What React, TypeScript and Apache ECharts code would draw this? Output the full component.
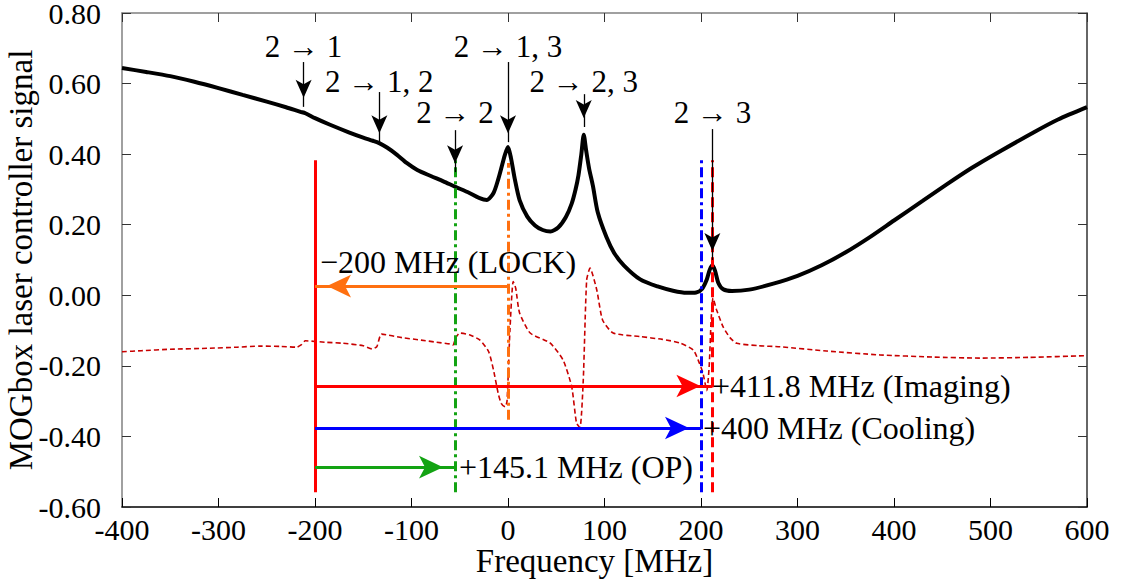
import React, { useEffect, useRef } from "react";
import * as echarts from "echarts";

// ---------- data ----------
const xMin = -400;
const xMax = 600;
const xStep = 100;
const yMin = -0.6;
const yMax = 0.8;
const yStep = 0.2;

// MOGbox laser controller signal (black, thick)
const controllerSignal: [number, number][] = [
  [-400, 0.644], [-375, 0.633], [-350, 0.621], [-325, 0.605], [-300, 0.587],
  [-275, 0.568], [-250, 0.549], [-230, 0.533], [-215, 0.52], [-210, 0.516],
  [-200, 0.502], [-185, 0.484], [-165, 0.462], [-150, 0.447], [-140, 0.438],
  [-134, 0.432], [-125, 0.418], [-115, 0.398], [-105, 0.375], [-94, 0.355],
  [-80, 0.338], [-67, 0.323], [-55, 0.308], [-40, 0.29], [-30, 0.276],
  [-22, 0.27], [-15, 0.29], [-10, 0.33], [-6, 0.37], [-3, 0.4], [0, 0.42],
  [3, 0.39], [7, 0.33], [12, 0.27], [20, 0.223], [28, 0.198], [36, 0.185],
  [44, 0.181], [52, 0.192], [60, 0.222], [66, 0.26], [70, 0.3], [73, 0.34],
  [76, 0.4], [78.5, 0.455], [81, 0.41], [84, 0.36], [88, 0.31], [93, 0.235],
  [102, 0.165], [110, 0.12], [120, 0.085], [137, 0.045], [155, 0.025],
  [171, 0.013], [185, 0.007], [195, 0.008], [201, 0.018], [206, 0.045],
  [209, 0.072], [211.8, 0.085], [214.5, 0.07], [218, 0.035], [223, 0.017],
  [232, 0.012], [250, 0.016], [275, 0.033], [300, 0.055], [325, 0.085],
  [350, 0.122], [375, 0.165], [400, 0.212], [430, 0.268], [455, 0.315],
  [480, 0.36], [510, 0.408], [545, 0.462], [570, 0.498], [600, 0.533],
];

// error signal (dark red, dashed)
const errorSignal: [number, number][] = [
  [-400, -0.16], [-380, -0.157], [-350, -0.153], [-309, -0.15], [-280, -0.147],
  [-257, -0.144], [-235, -0.145], [-219, -0.147], [-214, -0.14], [-210, -0.129],
  [-190, -0.133], [-171, -0.136], [-150, -0.143], [-141, -0.152], [-136, -0.146],
  [-131, -0.11], [-110, -0.12], [-90, -0.127], [-74, -0.133], [-60, -0.138],
  [-57, -0.141], [-54, -0.12], [-50, -0.107], [-40, -0.112], [-29, -0.127],
  [-20, -0.16], [-15, -0.212], [-10, -0.28], [-7, -0.306], [-3, -0.316],
  [-1, -0.3], [2, -0.1], [5.4, 0.039], [8, 0.02], [12, -0.05], [23, -0.107],
  [43.5, -0.135], [57, -0.183], [66, -0.259], [71, -0.362], [74.6, -0.374],
  [78, -0.24], [81.5, 0.043], [85, 0.077], [92, 0.015], [98, -0.07],
  [109, -0.107], [137, -0.117], [160, -0.125], [178, -0.135], [192, -0.155],
  [198, -0.19], [202, -0.22], [206, -0.27], [208.5, -0.2], [210.5, -0.07],
  [212.5, -0.008], [216, -0.04], [222.8, -0.089], [230, -0.12], [237, -0.136],
  [260, -0.143], [282, -0.146], [330, -0.158], [385.5, -0.169], [440, -0.175],
  [489, -0.178], [540, -0.176], [600, -0.171],
];

// hyperfine transitions (labels, frequencies)
const transitionLabels = ["2 → 1", "2 → 1, 2", "2 → 2", "2 → 1, 3", "2 → 2, 3", "2 → 3"];
const transitionFreqs = [-211.8, -133.3, -54.85, 0, 78.5, 211.8];
const transitionLabelY = [0.704, 0.607, 0.517, 0.704, 0.607, 0.517];
const transitionArrowTop = [0.661, 0.576, 0.468, 0.661, 0.57, 0.471];
const transitionArrowTip = [0.534, 0.434, 0.349, 0.434, 0.477, 0.1];

// laser frequencies relative to the lock point
const lockFreq = -200;
const opFreq = -54.9;
const coolingFreq = 200;
const imagingFreq = 211.8;
const offsetTexts = ["−200 MHz (LOCK)", "+145.1 MHz (OP)", "+400 MHz (Cooling)", "+411.8 MHz (Imaging)"];

const SERIF = "Liberation Serif";

function vLine(x: number, y0: number, y1: number, color: string, type: any) {
  return [
    { coord: [x, y0], symbol: "none", lineStyle: { color, width: 3, type } },
    { coord: [x, y1], symbol: "none" },
  ];
}

function hArrow(x0: number, x1: number, y: number, color: string) {
  return [
    { coord: [x0, y], symbol: "none", lineStyle: { color, width: 3, type: "solid" } },
    { coord: [x1, y], symbol: "arrow", symbolSize: [17, 24] },
  ];
}

function buildOption() {
  const dashDot = [10, 4, 3, 4];
  const vLines = [
    vLine(lockFreq, -0.558, 0.383, "#ff0000", "solid"),
    vLine(opFreq, -0.558, 0.389, "#13a313", dashDot),
    vLine(0, -0.353, 0.375, "#ff7010", dashDot),
    vLine(coolingFreq, -0.558, 0.39, "#0000ff", dashDot),
    vLine(imagingFreq, -0.558, 0.383, "#ff0000", [10, 5]),
  ];
  const hArrows = [
    hArrow(0, lockFreq, 0.026, "#ff7010"),
    hArrow(lockFreq, imagingFreq, -0.257, "#ff0000"),
    hArrow(lockFreq, coolingFreq, -0.376, "#0000ff"),
    hArrow(lockFreq, opFreq, -0.487, "#13a313"),
  ];
  const tArrows = transitionFreqs.map((f, i) => [
    { coord: [f, transitionArrowTop[i]], symbol: "none", lineStyle: { color: "#000", width: 1.3, type: "solid" } },
    { coord: [f, transitionArrowTip[i]], symbol: "arrow", symbolSize: [12, 18] },
  ]);

  const textStyleBase = { fontFamily: SERIF, color: "#000" };
  const tLabels = transitionFreqs.map((f, i) => ({
    name: transitionLabels[i],
    coord: [f, transitionLabelY[i]],
    symbol: "circle",
    symbolSize: 0,
    label: { show: true, position: "inside", formatter: "{b}", fontSize: 31, ...textStyleBase },
  }));
  const offsetPos: [number, number][] = [
    [-194.8, 0.094],
    [-50.8, -0.487],
    [202, -0.376],
    [211.4, -0.257],
  ];
  const oLabels = offsetTexts.map((t, i) => ({
    name: t,
    coord: offsetPos[i],
    symbol: "circle",
    symbolSize: 0,
    label: { show: true, position: "right", distance: 0, formatter: "{b}", fontSize: 32, ...textStyleBase },
  }));

  const axisFont = { fontFamily: SERIF, fontSize: 30, color: "#000", lineHeight: 22 };

  return {
    animation: false,
    backgroundColor: "#fff",
    textStyle: { fontFamily: SERIF },
    grid: { left: 122, right: 43, top: 13, bottom: 75, containLabel: false, outerBoundsMode: "none" },
    xAxis: [
      {
        type: "value", min: xMin, max: xMax, interval: xStep, position: "bottom",
        axisLine: { show: true, onZero: false, lineStyle: { color: "#000", width: 1.5 } },
        axisTick: { show: true, inside: true, length: 9, lineStyle: { color: "#000", width: 1 } },
        axisLabel: { ...axisFont, margin: 11, formatter: (v: number) => String(Math.round(v)) },
        splitLine: { show: false },
        name: "Frequency [MHz]", nameLocation: "middle", nameGap: 39, nameMoveOverlap: false,
        nameTextStyle: { fontFamily: SERIF, fontSize: 33, lineHeight: 30, color: "#000", padding: [0, 20, 0, 0] },
      },
      {
        type: "value", min: xMin, max: xMax, interval: xStep, position: "top",
        axisLine: { show: true, onZero: false, lineStyle: { color: "#808080", width: 1.5 } },
        axisTick: { show: true, inside: true, length: 9, lineStyle: { color: "#333", width: 1 } },
        axisLabel: { show: false },
        splitLine: { show: false },
      },
    ],
    yAxis: [
      {
        type: "value", min: yMin, max: yMax, interval: yStep, position: "left",
        axisLine: { show: true, onZero: false, lineStyle: { color: "#808080", width: 1.5 } },
        axisTick: { show: true, inside: true, length: 9, lineStyle: { color: "#333", width: 1 } },
        axisLabel: { ...axisFont, margin: 21, formatter: (v: number) => v.toFixed(2) },
        splitLine: { show: false },
        name: "MOGbox laser controller signal", nameLocation: "middle", nameGap: 84, nameMoveOverlap: false,
        nameTextStyle: { fontFamily: SERIF, fontSize: 33, lineHeight: 34, color: "#000" },
      },
      {
        type: "value", min: yMin, max: yMax, interval: yStep, position: "right",
        axisLine: { show: true, onZero: false, lineStyle: { color: "#333", width: 1.5 } },
        axisTick: { show: true, inside: true, length: 9, lineStyle: { color: "#333", width: 1 } },
        axisLabel: { show: false },
        splitLine: { show: false },
      },
    ],
    series: [
      {
        type: "line", data: controllerSignal, showSymbol: false, smooth: 0.25, z: 3,
        lineStyle: { color: "#000", width: 4 }, silent: true,
      },
      {
        type: "line", data: errorSignal, showSymbol: false, smooth: 0.2, z: 2,
        lineStyle: { color: "#c80000", width: 1.6, type: [5, 3] }, silent: true,
      },
      {
        type: "line", data: [], z: 5, silent: true,
        markLine: {
          silent: true, animation: false,
          symbol: ["none", "none"],
          symbolOffset: [[0, 0], [0, "50%"]],
          label: { show: false },
          emphasis: { disabled: true },
          data: [...vLines, ...hArrows, ...tArrows],
        },
        markPoint: {
          silent: true, animation: false,
          data: [...tLabels, ...oLabels],
        },
      },
    ],
  };
}

export default function App() {
  const ref = useRef<HTMLDivElement>(null);
  useEffect(() => {
    document.body.style.margin = "0";
    const chart = echarts.init(ref.current!, null, { renderer: "svg" });
    chart.setOption(buildOption() as any);
    return () => chart.dispose();
  }, []);
  return <div ref={ref} style={{ width: 1130, height: 582 }} />;
}
